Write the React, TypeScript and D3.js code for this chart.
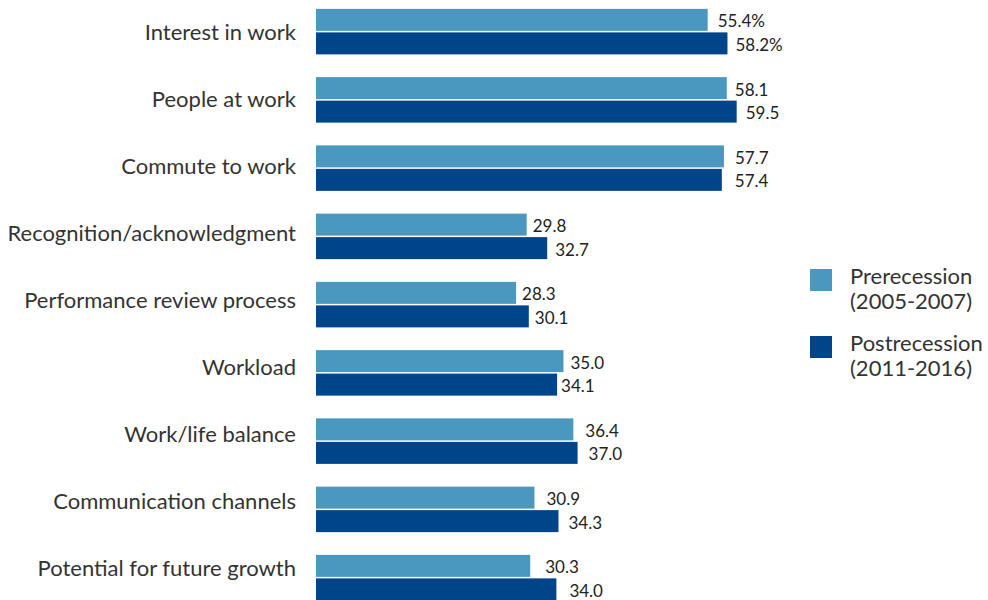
import React from "react";
import * as d3 from "d3";

const categories = [
  "Interest in work",
  "People at work",
  "Commute to work",
  "Recognition/acknowledgment",
  "Performance review process",
  "Workload",
  "Work/life balance",
  "Communication channels",
  "Potential for future growth",
];
const prerecession = [55.4, 58.1, 57.7, 29.8, 28.3, 35.0, 36.4, 30.9, 30.3];
const postrecession = [58.2, 59.5, 57.4, 32.7, 30.1, 34.1, 37.0, 34.3, 34.0];
const seriesNames = ["Prerecession", "Postrecession"];
const seriesPeriods = ["(2005-2007)", "(2011-2016)"];
const colors = ["#4a98c0", "#004489"];
// spacing between bar end and value label (style only)
const preGaps = [10, 8, 11, 6, 6, 7, 12, 12, 15];
const postGaps = [8, 9, 13, 8, 6, 4, 11, 10, 13];

const W = 988;
const H = 600;
const FONT = "Lato, 'Open Sans', sans-serif";

export default function App() {
  const x = d3.scaleLinear().domain([0, 60]).range([316, 316 + 60 * 7.07]);
  const yBars = d3
    .scaleBand<string>()
    .domain(categories)
    .range([9 - 11.5, 9 - 11.5 + 68.25 * 9]);
  const yLabels = d3
    .scaleBand<string>()
    .domain(categories)
    .range([31 - 33.55, 31 - 33.55 + 67.1 * 9]);
  const barH = 22;
  const gap = 1.5;
  const series = [prerecession, postrecession];
  const gaps = [preGaps, postGaps];

  return (
    <svg
      width={W}
      height={H}
      style={{ position: "absolute", left: 0, top: 0, background: "#fff" }}
      fontFamily={FONT}
    >
      {categories.map((c, i) => {
        const cy = (yBars(c) as number) + yBars.bandwidth() / 2;
        const ly = (yLabels(c) as number) + yLabels.bandwidth() / 2;
        return (
          <g key={c}>
            <text
              x={296}
              y={ly}
              textAnchor="end"
              dominantBaseline="central"
              fontSize={22}
              fill="#333"
            >
              {c}
            </text>
            {series.map((s, j) => {
              const top = j === 0 ? cy - gap / 2 - barH : cy + gap / 2;
              const label = s[i].toFixed(1) + (i === 0 ? "%" : "");
              return (
                <g key={j}>
                  <rect
                    x={x(0)}
                    y={top}
                    width={x(s[i]) - x(0)}
                    height={barH}
                    fill={colors[j]}
                  />
                  <text
                    x={x(s[i]) + gaps[j][i]}
                    y={top + barH / 2 + 1}
                    dominantBaseline="central"
                    fontSize={17}
                    fill="#222"
                  >
                    {label}
                  </text>
                </g>
              );
            })}
          </g>
        );
      })}
      {seriesNames.map((n, j) => {
        const top = 269 + j * 67;
        return (
          <g key={n}>
            <rect x={810} y={top} width={22} height={22} fill={colors[j]} />
            <text x={850} y={top + 6} dominantBaseline="central" fontSize={22} fill="#333">
              {n}
            </text>
            <text x={850} y={top + 31} dominantBaseline="central" fontSize={22} fill="#333">
              {seriesPeriods[j]}
            </text>
          </g>
        );
      })}
    </svg>
  );
}
